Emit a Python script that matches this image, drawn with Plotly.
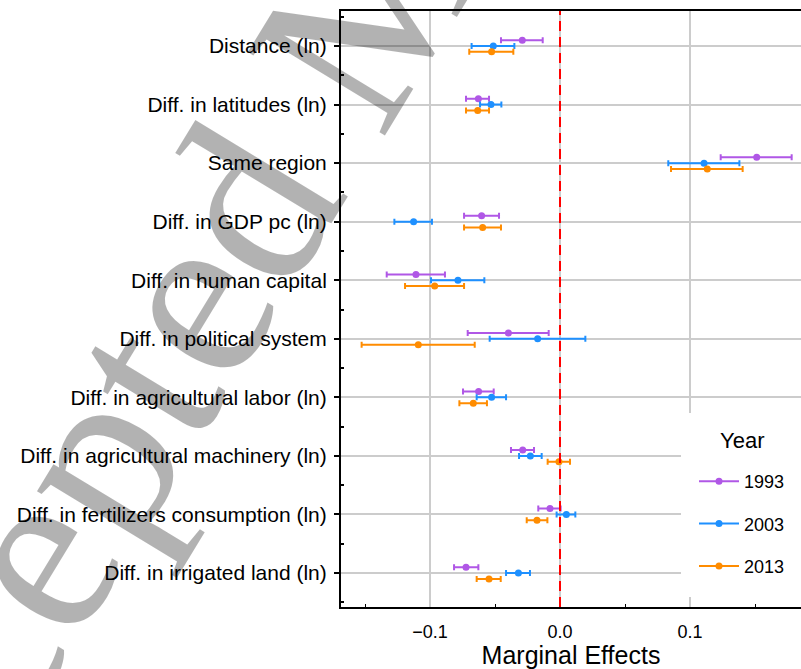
import plotly.graph_objects as go

categories = [
    "Distance (ln)",
    "Diff. in latitudes (ln)",
    "Same region",
    "Diff. in GDP pc (ln)",
    "Diff. in human capital",
    "Diff. in political system",
    "Diff. in agricultural labor (ln)",
    "Diff. in agricultural machinery (ln)",
    "Diff. in fertilizers consumption (ln)",
    "Diff. in irrigated land (ln)",
]
years = ["1993", "2003", "2013"]

est_1993 = [-0.029, -0.0628, 0.1513, -0.0603, -0.1108, -0.0397, -0.0626, -0.0287, -0.0077, -0.0723]
lo_1993 = [-0.0454, -0.0723, 0.1236, -0.0738, -0.1333, -0.0710, -0.0746, -0.0377, -0.0167, -0.0815]
hi_1993 = [-0.0133, -0.0546, 0.1782, -0.0469, -0.0885, -0.0087, -0.0510, -0.0200, 0.0005, -0.0628]

est_2003 = [-0.0513, -0.0531, 0.1108, -0.1126, -0.0785, -0.0172, -0.0526, -0.0228, 0.0049, -0.0320]
lo_2003 = [-0.0680, -0.0615, 0.0833, -0.1274, -0.0992, -0.0541, -0.0641, -0.0315, -0.0026, -0.0415]
hi_2003 = [-0.0351, -0.0451, 0.1380, -0.0985, -0.0582, 0.0195, -0.0415, -0.0141, 0.0118, -0.0231]

est_2013 = [-0.0526, -0.0633, 0.1133, -0.0595, -0.0964, -0.1090, -0.0667, -0.0008, -0.0177, -0.0546]
lo_2013 = [-0.0698, -0.0723, 0.0854, -0.0738, -0.1192, -0.1526, -0.0774, -0.0095, -0.0256, -0.0641]
hi_2013 = [-0.0359, -0.0546, 0.1405, -0.0454, -0.0738, -0.0656, -0.0562, 0.0077, -0.0097, -0.0456]

colors = ["#B057E6", "#1E90FF", "#FF8C00"]
offsets = [-0.1, 0.0, 0.1]

series = [
    (est_1993, lo_1993, hi_1993),
    (est_2003, lo_2003, hi_2003),
    (est_2013, lo_2013, hi_2013),
]

fig = go.Figure()
pos = list(range(len(categories)))
for yr, (est, lo, hi), col, off in zip(years, series, colors, offsets):
    fig.add_trace(go.Scatter(
        x=est,
        y=[p + off for p in pos],
        mode="markers",
        marker=dict(color=col, size=7),
        error_x=dict(type="data", symmetric=False,
                     array=[h - e for h, e in zip(hi, est)],
                     arrayminus=[e - l for e, l in zip(est, lo)],
                     color=col, thickness=2, width=3),
        showlegend=False,
        hoverinfo="skip",
    ))
    fig.add_trace(go.Scatter(
        x=[None], y=[None], mode="lines+markers", name=yr,
        line=dict(color=col, width=2), marker=dict(color=col, size=7),
        legendgroup=yr,
    ))

# white legend panel (hides grid behind legend)
fig.add_shape(type="rect", xref="paper", yref="paper",
              x0=(681 - 341) / 460, x1=1.0, y0=(607 - 597) / 596, y1=(607 - 413) / 596,
              fillcolor="white", line=dict(width=0), layer="above")

# red dashed zero reference line
fig.add_shape(type="line", xref="x", yref="paper", x0=0, x1=0, y0=0, y1=1,
              line=dict(color="#FF0000", width=2, dash="10px,6px"), layer="above")

# legend title
fig.add_annotation(text="Year", xref="paper", yref="paper",
                   x=(742 - 341) / 460, y=(607 - 440) / 596, xanchor="center", yanchor="middle",
                   showarrow=False, font=dict(size=22, color="black"))

# watermark
fig.add_annotation(text="Accepted Manuscript", xref="paper", yref="paper",
                   x=(344 - 341) / 460, y=(607 - 43) / 596, xanchor="center", yanchor="middle",
                   showarrow=False, textangle=-58.7,
                   font=dict(family="Liberation Serif", size=245, color="rgba(0,0,0,0.30)"))

fig.update_layout(
    width=801, height=669,
    margin=dict(l=341, r=0, t=11, b=62, autoexpand=False),
    paper_bgcolor="white", plot_bgcolor="white",
    font=dict(family="Liberation Sans, Arial, sans-serif", color="black"),
    xaxis=dict(
        range=[-0.16846, 0.18538],
        tickvals=[-0.1, 0.0, 0.1], ticktext=["\u22120.1", "0.0", "0.1"],
        tickfont=dict(size=18), ticks="", ticklabelstandoff=7,
        showgrid=True, gridcolor="#CCCCCC", gridwidth=2,
        showline=True, linecolor="black", linewidth=2, mirror=True,
        zeroline=False, automargin=False,
        title=dict(text="Marginal Effects", font=dict(size=25), standoff=6),
        minor=dict(tickvals=[-0.15, -0.05, 0.05, 0.15], ticks="inside", ticklen=3,
                   tickcolor="black", showgrid=False),
    ),
    yaxis=dict(
        range=[9.58, -0.598],
        tickvals=pos, ticktext=categories,
        tickfont=dict(size=21), ticks="outside", ticklen=5, tickwidth=1.5, tickcolor="black",
        ticklabelstandoff=3,
        showgrid=True, gridcolor="#CCCCCC", gridwidth=2,
        showline=True, linecolor="black", linewidth=2,
        zeroline=False, automargin=False,
        minor=dict(tickvals=[p + 0.5 for p in pos[:-1]] + [-0.5, 9.5], ticks="inside",
                   ticklen=3, tickcolor="black", showgrid=False),
    ),
    legend=dict(
        x=(694 - 341) / 460, y=(607 - 463) / 596, xanchor="left", yanchor="top",
        bgcolor="rgba(0,0,0,0)", borderwidth=0,
        font=dict(size=18), tracegroupgap=16, itemwidth=40,
    ),
)

fig.write_html("out.html", config={"displayModeBar": False},
               post_script="document.body.style.margin='0px';document.body.style.padding='0px';")
